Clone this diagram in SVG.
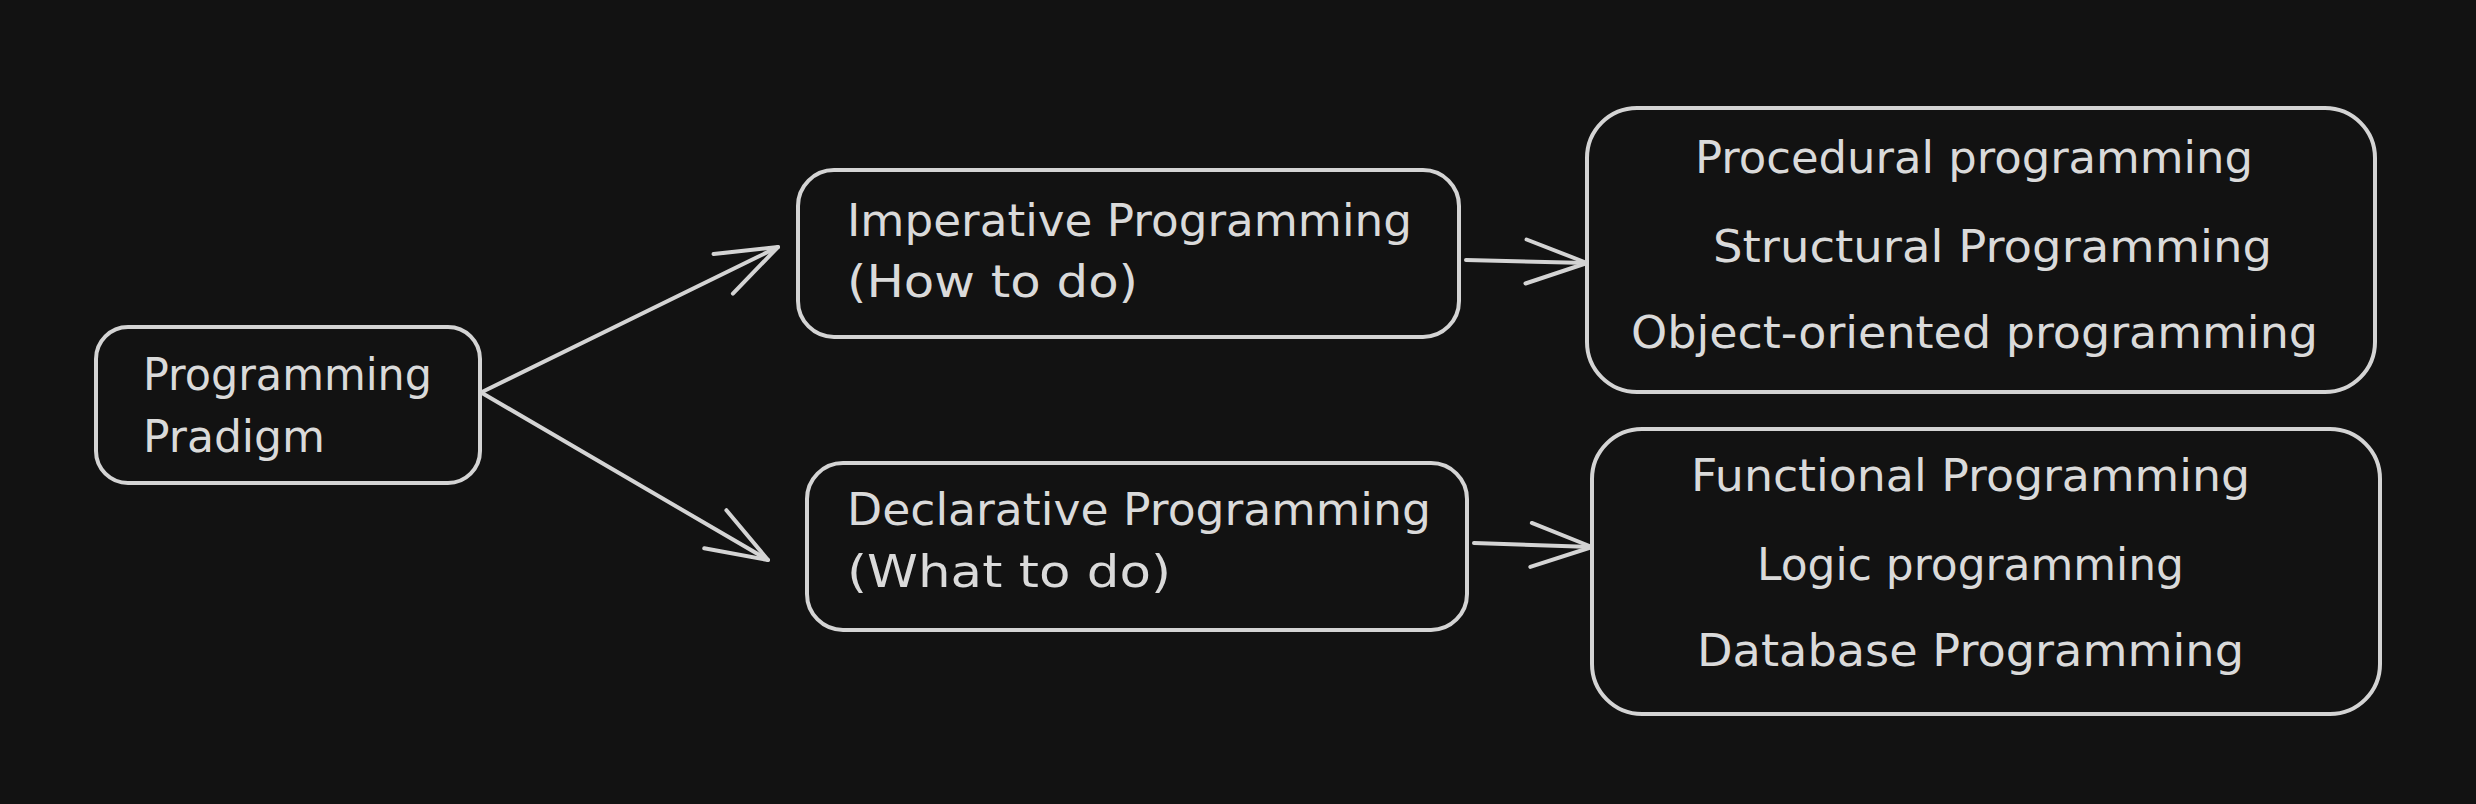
<svg xmlns="http://www.w3.org/2000/svg" width="2476" height="804" viewBox="0 0 2476 804">
<style>
.box{fill:#121212;stroke:#d4d4d4;stroke-width:4}
.t{font-family:"DejaVu Sans","Liberation Sans",sans-serif;font-size:45px;fill:#dadada}
.edge{fill:none;stroke:#d4d4d4;stroke-width:4;stroke-linecap:round}
</style>
<defs>
<marker id="ah" markerUnits="userSpaceOnUse" orient="auto" overflow="visible" markerWidth="1" markerHeight="1" refX="0" refY="0">
<path d="M-61,-22 L0,0 L-61,22" fill="none" stroke="#d4d4d4" stroke-width="4" stroke-linecap="round" stroke-linejoin="round"/>
</marker>
</defs>
<rect width="2476" height="804" fill="#121212"/>
<g id="connectors">
<path class="edge" d="M482,392 L778,247" marker-end="url(#ah)"/>
<path class="edge" d="M482,393 L768,560" marker-end="url(#ah)"/>
<path class="edge" d="M1466,260 L1587,263" marker-end="url(#ah)"/>
<path class="edge" d="M1474,543 L1592,547" marker-end="url(#ah)"/>
</g>
<g id="node-paradigm">
<rect class="box" x="96" y="327" width="384" height="156" rx="32"/>
<text class="t" x="143" y="390" textLength="289" lengthAdjust="spacingAndGlyphs">Programming</text>
<text class="t" x="143" y="452" textLength="182" lengthAdjust="spacingAndGlyphs">Pradigm</text>
</g>
<g id="node-imperative">
<rect class="box" x="798" y="170" width="661" height="167" rx="36"/>
<text class="t" x="847" y="236" textLength="565" lengthAdjust="spacingAndGlyphs">Imperative Programming</text>
<text class="t" x="847" y="297" textLength="291" lengthAdjust="spacingAndGlyphs">(How to do)</text>
</g>
<g id="node-declarative">
<rect class="box" x="807" y="463" width="660" height="167" rx="36"/>
<text class="t" x="847" y="525" textLength="584" lengthAdjust="spacingAndGlyphs">Declarative Programming</text>
<text class="t" x="847" y="587" textLength="324" lengthAdjust="spacingAndGlyphs">(What to do)</text>
</g>
<g id="node-imperative-types">
<rect class="box" x="1587" y="108" width="788" height="284" rx="50"/>
<text class="t" x="1695" y="173" textLength="558" lengthAdjust="spacingAndGlyphs">Procedural programming</text>
<text class="t" x="1713" y="262" textLength="559" lengthAdjust="spacingAndGlyphs">Structural Programming</text>
<text class="t" x="1631" y="348" textLength="687" lengthAdjust="spacingAndGlyphs">Object-oriented programming</text>
</g>
<g id="node-declarative-types">
<rect class="box" x="1592" y="429" width="788" height="285" rx="50"/>
<text class="t" x="1691" y="491" textLength="559" lengthAdjust="spacingAndGlyphs">Functional Programming</text>
<text class="t" x="1757" y="580" textLength="427" lengthAdjust="spacingAndGlyphs">Logic programming</text>
<text class="t" x="1697" y="666" textLength="547" lengthAdjust="spacingAndGlyphs">Database Programming</text>
</g>
</svg>
